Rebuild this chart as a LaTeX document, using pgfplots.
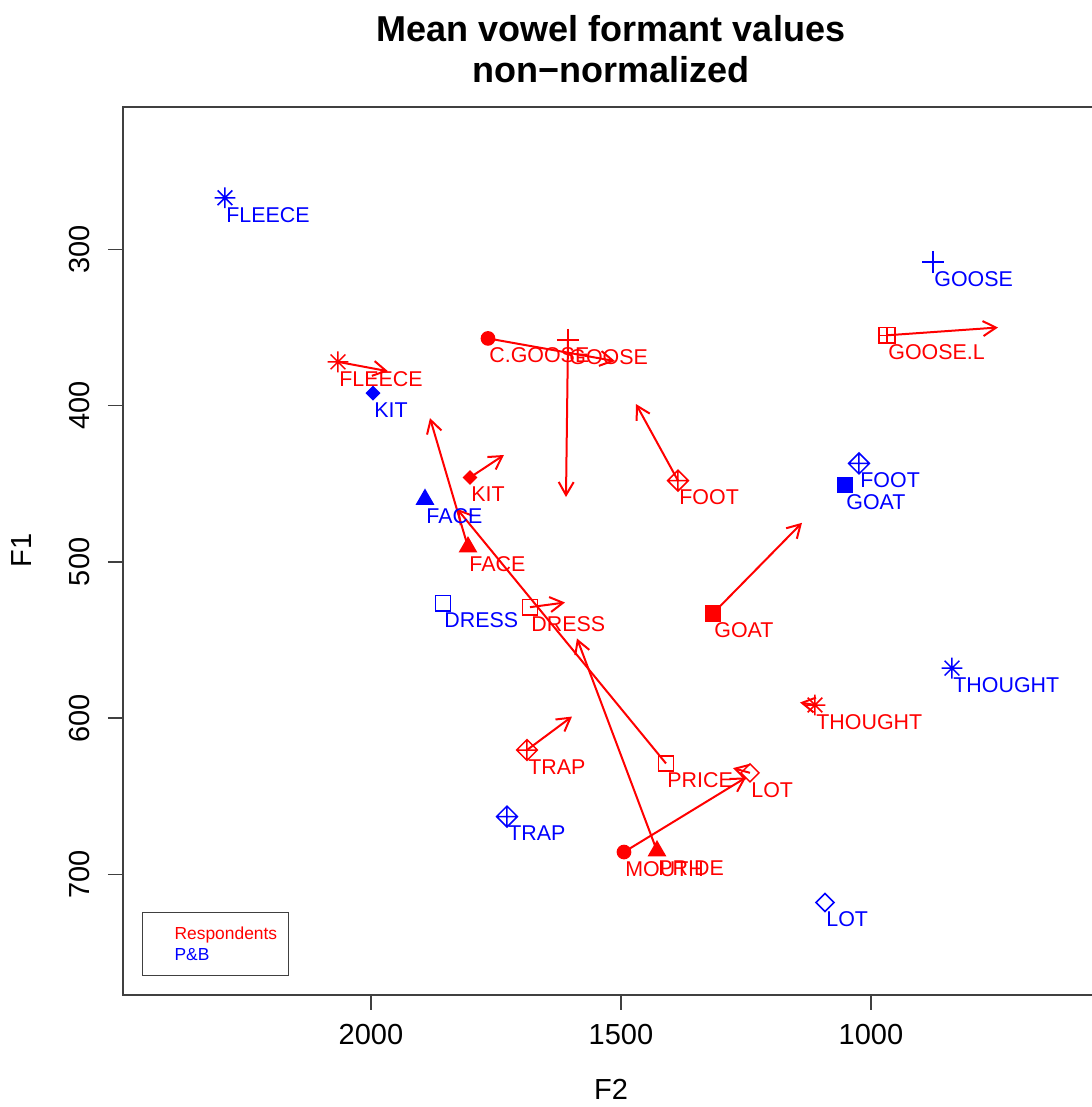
\documentclass[border=0pt]{standalone}
\usepackage{fontspec}
\setmainfont{Liberation Sans}
\usepackage{pgfplots}
\pgfplotsset{compat=1.18}
\usetikzlibrary{arrows.meta}

% R-style plotting symbols
\pgfdeclareplotmark{rast}{% pch 8: plus and cross
  \pgfpathmoveto{\pgfqpoint{-\pgfplotmarksize}{0pt}}\pgfpathlineto{\pgfqpoint{\pgfplotmarksize}{0pt}}%
  \pgfpathmoveto{\pgfqpoint{0pt}{-\pgfplotmarksize}}\pgfpathlineto{\pgfqpoint{0pt}{\pgfplotmarksize}}%
  \pgfpathmoveto{\pgfqpoint{-.7071\pgfplotmarksize}{-.7071\pgfplotmarksize}}\pgfpathlineto{\pgfqpoint{.7071\pgfplotmarksize}{.7071\pgfplotmarksize}}%
  \pgfpathmoveto{\pgfqpoint{-.7071\pgfplotmarksize}{.7071\pgfplotmarksize}}\pgfpathlineto{\pgfqpoint{.7071\pgfplotmarksize}{-.7071\pgfplotmarksize}}%
  \pgfusepathqstroke}
\pgfdeclareplotmark{rdiam}{% pch 5: open diamond
  \pgfpathmoveto{\pgfqpoint{0pt}{\pgfplotmarksize}}\pgfpathlineto{\pgfqpoint{\pgfplotmarksize}{0pt}}%
  \pgfpathlineto{\pgfqpoint{0pt}{-\pgfplotmarksize}}\pgfpathlineto{\pgfqpoint{-\pgfplotmarksize}{0pt}}%
  \pgfpathclose\pgfusepathqstroke}
\pgfdeclareplotmark{rdiamf}{% pch 18: filled diamond
  \pgfpathmoveto{\pgfqpoint{0pt}{\pgfplotmarksize}}\pgfpathlineto{\pgfqpoint{\pgfplotmarksize}{0pt}}%
  \pgfpathlineto{\pgfqpoint{0pt}{-\pgfplotmarksize}}\pgfpathlineto{\pgfqpoint{-\pgfplotmarksize}{0pt}}%
  \pgfpathclose\pgfusepathqfillstroke}
\pgfdeclareplotmark{dplus}{% pch 9: diamond with plus
  \pgfpathmoveto{\pgfqpoint{0pt}{\pgfplotmarksize}}\pgfpathlineto{\pgfqpoint{\pgfplotmarksize}{0pt}}%
  \pgfpathlineto{\pgfqpoint{0pt}{-\pgfplotmarksize}}\pgfpathlineto{\pgfqpoint{-\pgfplotmarksize}{0pt}}%
  \pgfpathclose
  \pgfpathmoveto{\pgfqpoint{-\pgfplotmarksize}{0pt}}\pgfpathlineto{\pgfqpoint{\pgfplotmarksize}{0pt}}%
  \pgfpathmoveto{\pgfqpoint{0pt}{-\pgfplotmarksize}}\pgfpathlineto{\pgfqpoint{0pt}{\pgfplotmarksize}}%
  \pgfusepathqstroke}
\pgfdeclareplotmark{splus}{% pch 12: square with plus
  \pgfpathrectangle{\pgfqpoint{-\pgfplotmarksize}{-\pgfplotmarksize}}{\pgfqpoint{2\pgfplotmarksize}{2\pgfplotmarksize}}%
  \pgfpathmoveto{\pgfqpoint{-\pgfplotmarksize}{0pt}}\pgfpathlineto{\pgfqpoint{\pgfplotmarksize}{0pt}}%
  \pgfpathmoveto{\pgfqpoint{0pt}{-\pgfplotmarksize}}\pgfpathlineto{\pgfqpoint{0pt}{\pgfplotmarksize}}%
  \pgfusepathqstroke}

\tikzset{vlab/.style={anchor=north west, inner sep=0pt, xshift=0.5pt, yshift=-4.5pt,
  font=\fontsize{10.7}{12}\selectfont}}

% vowel mean: colour, mark, mark size, F2, F1, label
\newcommand{\vpt}[6]{%
  \addplot[#1, only marks, mark=#2, mark size=#3,
    mark options={solid, line width=0.75pt, fill=#1}, forget plot] coordinates {(#4,#5)};
  \node[vlab, text=#1] at (axis cs:#4,#5) {#6};}
% trajectory: F2 start, F1 start, F2 end, F1 end
\newcommand{\varr}[4]{%
  \addplot[red, line width=1pt, -{Straight Barb[length=6.5pt,width=7.5pt]}, forget plot]
    coordinates {(#1,#2) (#3,#4)};}

\begin{document}
\begin{tikzpicture}
\useasboundingbox (-61.5pt,-56.15pt) rectangle (484pt,497.35pt);
\begin{axis}[
  name=ax, at={(0pt,0pt)}, anchor=south west,
  scale only axis, width=488pt, height=444pt,
  xmin=544, xmax=2496, ymin=208.7, ymax=777,
  x dir=reverse, y dir=reverse,
  axis line style={black!75, line width=0.9pt},
  xtick={1000,1500,2000}, ytick={300,400,500,600,700},
  xtick pos=bottom, ytick pos=left,
  tick align=outside, major tick length=7.5pt,
  tick style={black!75, line width=0.8pt},
  ticklabel style={font=\fontsize{14.5}{17}\selectfont},
  /pgf/number format/assume math mode=true,
  /pgf/number format/1000 sep={},
  yticklabel style={rotate=90, anchor=south},
  xticklabel shift=3.5pt, yticklabel shift=5.5pt,
  xlabel={F2}, ylabel={F1},
  label style={font=\fontsize{14.5}{17}\selectfont},
  xlabel style={at={(axis description cs:0.5,-0.107)}, anchor=center},
  ylabel style={at={(axis description cs:-0.1035,0.5)}, anchor=center},
  legend style={at={(axis description cs:0.0195,0.021)}, anchor=south west,
    draw=black!75, line width=0.6pt, fill=white,
    inner xsep=5.5pt, inner ysep=7.3pt, row sep=4.6pt, column sep=0pt,
    nodes={inner sep=0pt, text depth=0pt, font=\fontsize{8.7}{10}\selectfont},
    cells={anchor=west}},
  legend cell align=left,
]
\addlegendimage{legend image code/.code={\path[draw=none] (0pt,0pt) -- (10.5pt,0pt);}}
\addlegendentry{\textcolor{red}{Respondents}}
\addlegendimage{legend image code/.code={\path[draw=none] (0pt,0pt) -- (10.5pt,0pt);}}
\addlegendentry{\textcolor{blue}{P\&B}}

% Respondents: trajectories
\varr{2066}{372}{1966}{378}
\varr{1766}{357}{1512}{371.5}
\varr{1606}{358}{1610}{458.5}
\varr{1802}{446}{1734}{431.6}
\varr{1386}{448}{1470}{399}
\varr{1806}{490.5}{1882}{408}
\varr{1682}{529}{1612}{526}
\varr{1316}{533}{1138}{475}
\varr{1112}{591.6}{1142}{590}
\varr{1688}{620.4}{1598}{599}
\varr{1410}{629}{1828}{466}
\varr{1242}{635}{1276}{632}
\varr{1494}{685.7}{1250}{638}
\varr{1428}{685}{1588}{549}
\varr{968}{355}{746}{350}

% Respondents: means
\vpt{red}{rast}{5.2pt}{2066}{372}{FLEECE}
\vpt{red}{*}{3.3pt}{1766}{357}{C.GOOSE}
\vpt{red}{+}{5.5pt}{1606}{358}{GOOSE}
\vpt{red}{rdiamf}{3.2pt}{1802}{446}{KIT}
\vpt{red}{dplus}{5.2pt}{1386}{448}{FOOT}
\vpt{red}{triangle*}{4.7pt}{1806}{490.5}{FACE}
\vpt{red}{square}{3.8pt}{1682}{529}{DRESS}
\vpt{red}{square*}{3.7pt}{1316}{533}{GOAT}
\vpt{red}{rast}{5.2pt}{1112}{591.6}{THOUGHT}
\vpt{red}{dplus}{5.2pt}{1688}{620.4}{TRAP}
\vpt{red}{square}{3.8pt}{1410}{629}{PRICE}
\vpt{red}{rdiam}{4.5pt}{1242}{635}{LOT}
\vpt{red}{*}{3.3pt}{1494}{685.7}{MOUTH}
\vpt{red}{triangle*}{4.7pt}{1428}{685}{PRIDE}
\vpt{red}{splus}{3.9pt}{968}{355}{GOOSE.L}

% P&B reference means
\vpt{blue}{rast}{5.2pt}{2292}{267}{FLEECE}
\vpt{blue}{rdiamf}{3.2pt}{1996}{392}{KIT}
\vpt{blue}{triangle*}{4.7pt}{1892}{460}{FACE}
\vpt{blue}{square}{3.8pt}{1856}{526.5}{DRESS}
\vpt{blue}{dplus}{5.2pt}{1728}{663}{TRAP}
\vpt{blue}{+}{5.5pt}{876}{308}{GOOSE}
\vpt{blue}{dplus}{5.2pt}{1024}{437}{FOOT}
\vpt{blue}{square*}{3.7pt}{1052}{450.6}{GOAT}
\vpt{blue}{rast}{5.2pt}{838}{568}{THOUGHT}
\vpt{blue}{rdiam}{4.5pt}{1092}{718}{LOT}
\end{axis}
\node[anchor=base, font=\bfseries\fontsize{18}{22}\selectfont] at (244pt,476.6pt) {Mean vowel formant values};
\node[anchor=base, font=\bfseries\fontsize{18}{22}\selectfont] at (244pt,455.85pt) {non−normalized};
\end{tikzpicture}
\end{document}
